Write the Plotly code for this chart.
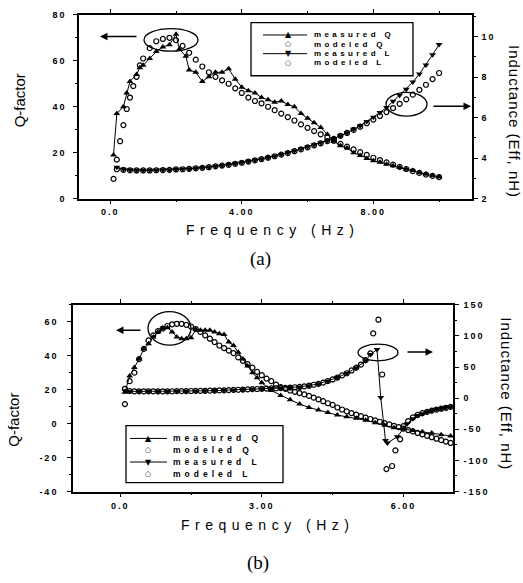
import plotly.graph_objects as go

W, H = 523, 583

# ---------------- data: chart (a) ----------------
a_freq_meas_q = [0.1, 0.2, 0.4, 0.5, 0.6, 0.8, 0.9, 1.0, 1.2, 1.4, 1.6, 1.8, 2.0, 2.1, 2.3, 2.4, 2.6, 2.8,
                 3.0, 3.2, 3.4, 3.6, 3.8, 4.0, 4.2, 4.4, 4.6, 4.8, 5.0, 5.2, 5.4, 5.6, 5.8, 6.0, 6.2, 6.4,
                 6.6, 6.8, 7.0, 7.2, 7.4, 7.6, 7.8, 8.0, 8.2, 8.4, 8.6, 8.8, 9.0, 9.2, 9.4, 9.6, 9.8, 10.0]
a_meas_q = [19, 37, 40, 46, 51, 54, 57, 58, 61, 64, 66, 67, 71.5, 65, 62, 56, 55, 51,
            53, 55, 55, 56.5, 52, 48.5, 47, 46, 44, 43, 42, 42.5, 41, 40, 37, 35, 33, 31,
            28, 25, 23, 22, 20, 18.8, 17.5, 16.5, 15.8, 15, 14.3, 13.5, 12.8, 12.2, 11.3, 10.6, 10, 9.4]

a_freq_mod_q = [0.1, 0.2, 0.3, 0.4, 0.5, 0.6, 0.7, 0.8, 0.9, 1.0, 1.2, 1.4, 1.6, 1.8, 2.0, 2.2, 2.4, 2.6,
                2.8, 3.0, 3.2, 3.4, 3.6, 3.8, 4.0, 4.2, 4.4, 4.6, 4.8, 5.0, 5.2, 5.4, 5.6, 5.8, 6.0, 6.2,
                6.4, 6.6, 6.8, 7.0, 7.2, 7.4, 7.6, 7.8, 8.0, 8.2, 8.4, 8.6, 8.8, 9.0, 9.2, 9.4, 9.6, 9.8, 10.0]
a_mod_q = [8.6, 17, 25, 32, 39, 44, 49, 53, 58, 61, 65.5, 68.5, 69.5, 70, 69, 66.5, 63.5, 60.5,
           57.5, 55, 53, 51.5, 50, 48, 46, 44, 42.5, 41.5, 40, 38.5, 37, 35.5, 34, 32.3, 30.8, 29.4,
           28, 26.6, 25.2, 23.8, 22.6, 21.4, 20.2, 19, 17.8, 16.8, 15.8, 14.8, 13.8, 12.9, 12, 11.2, 10.5, 9.9, 9.4]

a_freq_l = [0.2, 0.4, 0.6, 0.8, 1.0, 1.2, 1.4, 1.6, 1.8, 2.0, 2.2, 2.4, 2.6, 2.8, 3.0, 3.2, 3.4, 3.6,
            3.8, 4.0, 4.2, 4.4, 4.6, 4.8, 5.0, 5.2, 5.4, 5.6, 5.8, 6.0, 6.2, 6.4, 6.6, 6.8, 7.0, 7.2,
            7.4, 7.6, 7.8, 8.0, 8.2, 8.4, 8.6, 8.8, 9.0, 9.2, 9.4, 9.6, 9.8, 10.0]
a_meas_l = [3.55, 3.45, 3.42, 3.4, 3.4, 3.4, 3.41, 3.42, 3.43, 3.45, 3.46, 3.48, 3.5, 3.53, 3.56, 3.6,
            3.64, 3.68, 3.73, 3.78, 3.84, 3.9, 3.96, 4.03, 4.1, 4.18, 4.27, 4.36, 4.46, 4.56, 4.66, 4.76,
            4.86, 4.97, 5.1, 5.25, 5.42, 5.6, 5.8, 6.02, 6.25, 6.5, 6.8, 7.1, 7.4, 7.75, 8.15, 8.6, 9.1, 9.6]
a_mod_l = [3.45, 3.42, 3.4, 3.39, 3.39, 3.39, 3.4, 3.41, 3.42, 3.44, 3.45, 3.47, 3.49, 3.52, 3.55, 3.59,
           3.63, 3.67, 3.72, 3.77, 3.83, 3.89, 3.95, 4.02, 4.09, 4.17, 4.25, 4.34, 4.43, 4.53, 4.63, 4.73,
           4.84, 4.95, 5.1, 5.24, 5.39, 5.55, 5.72, 5.9, 6.08, 6.27, 6.47, 6.68, 6.9, 7.13, 7.37, 7.62, 7.9, 8.2]

# ---------------- data: chart (b) ----------------
b_freq_meas_q = [0.1, 0.2, 0.3, 0.4, 0.5, 0.6, 0.7, 0.8, 0.9, 1.0, 1.1, 1.2, 1.3, 1.4, 1.5, 1.6, 1.7, 1.8,
                 1.9, 2.0, 2.1, 2.2, 2.3, 2.4, 2.5, 2.6, 2.7, 2.8, 2.9, 3.0, 3.2, 3.4, 3.6, 3.8, 4.0, 4.2,
                 4.4, 4.6, 4.8, 5.0, 5.2, 5.4, 5.6, 5.8, 6.0, 6.2, 6.4, 6.6, 6.8, 7.0]
b_meas_q = [18.5, 28, 33, 38, 44, 47, 51, 54, 56, 56.5, 54, 51, 50, 50, 50.5, 55.5, 55, 55,
            55, 54, 53, 52.5, 48, 46, 42, 38, 34, 30, 27, 24, 19.5, 16.5, 14, 11.5, 9.5, 8,
            6.5, 5, 4, 3.2, 2, 0.5, -1, -2.5, -3.2, -4, -4.8, -5.6, -6.5, -7.3]

b_freq_mod_q = [0.1, 0.2, 0.3, 0.4, 0.5, 0.6, 0.7, 0.8, 0.9, 1.0, 1.1, 1.2, 1.3, 1.4, 1.5, 1.6, 1.7, 1.8,
                1.9, 2.0, 2.1, 2.2, 2.3, 2.4, 2.5, 2.6, 2.7, 2.8, 2.9, 3.0, 3.1, 3.2, 3.3, 3.4, 3.5, 3.6,
                3.7, 3.8, 3.9, 4.0, 4.1, 4.2, 4.3, 4.4, 4.5, 4.6, 4.7, 4.8, 4.9, 5.0, 5.1, 5.2, 5.3, 5.4,
                5.5, 5.6, 5.7, 5.8, 5.9, 6.0, 6.1, 6.2, 6.3, 6.4, 6.5, 6.6, 6.7, 6.8, 6.9, 7.0]
b_mod_q = [11.5, 25, 30, 38, 44, 49, 52, 54.5, 56, 57.5, 58.5, 58.8, 58.8, 58.2, 57.2, 55.7, 54, 52,
           50, 48, 46, 44.5, 43, 41.5, 39, 37, 35, 33, 30.5, 28.5, 26.5, 25, 23, 21.5, 20.5, 19.5,
           18.7, 18, 17.2, 16.3, 15.3, 14.3, 13.2, 12, 11, 9.5, 8.3, 7.2, 6.2, 5.3, 4.4, 3.5, 2.7, 1.9,
           1.1, 0.3, -0.5, -1.3, -2.1, -2.9, -3.8, -4.6, -5.5, -6.3, -7.2, -8.0, -8.9, -9.7, -10.6, -11.4]

b_freq_meas_l = [0.1, 0.2, 0.4, 0.6, 0.8, 1.0, 1.2, 1.4, 1.6, 1.8, 2.0, 2.2, 2.4, 2.6, 2.8, 3.0, 3.2, 3.4,
                 3.6, 3.8, 4.0, 4.2, 4.4, 4.6, 4.8, 5.0, 5.2, 5.3, 5.44, 5.52, 5.62, 5.66, 5.87, 6.08,
                 6.2, 6.3, 6.4, 6.5, 6.6, 6.7, 6.8, 6.9, 7.0]
b_meas_l = [12, 11, 10.8, 10.8, 10.8, 10.8, 11, 11.2, 11.5, 11.8, 12.2, 12.6, 13.2, 13.8, 14.4, 15, 15.6, 16.2,
            17, 18, 20, 23, 27.5, 33, 40, 49, 60, 70, 78, 1, -68, -72, -62, -41,
            -33, -28, -25, -22, -20, -18, -16.5, -15, -14]

b_freq_mod_l = [0.1, 0.2, 0.3, 0.4, 0.5, 0.6, 0.7, 0.8, 0.9, 1.0, 1.1, 1.2, 1.3, 1.4, 1.5, 1.6, 1.7, 1.8,
                1.9, 2.0, 2.1, 2.2, 2.3, 2.4, 2.5, 2.6, 2.7, 2.8, 2.9, 3.0, 3.1, 3.2, 3.3, 3.4, 3.5, 3.6,
                3.7, 3.8, 3.9, 4.0, 4.1, 4.2, 4.3, 4.4, 4.5, 4.6, 4.7, 4.8, 4.9, 5.0, 5.1, 5.2, 5.3,
                5.36, 5.47, 5.55, 5.64, 5.76, 5.83, 5.93,
                6.0, 6.1, 6.2, 6.3, 6.4, 6.5, 6.6, 6.7, 6.8, 6.9, 7.0]
b_mod_l = [15, 11.5, 11, 11, 11, 11, 11, 11, 11, 11, 11.1, 11.2, 11.3, 11.4, 11.5, 11.6, 11.7, 11.8,
           12, 12.2, 12.4, 12.6, 12.9, 13.2, 13.5, 13.8, 14.1, 14.4, 14.7, 15, 15.3, 15.6, 15.9, 16.2, 16.5, 17,
           17.5, 18, 19, 20, 21.5, 23, 25, 27.5, 30, 33, 36.5, 40, 44.5, 49, 54, 61, 72,
           104, 126, 38, -114, -109, -84, -66,
           -45, -37, -31, -27, -24, -22, -20, -18.5, -17, -15.5, -14]

# tick labels
a_x_ticks = [0, 4, 8]
a_x_labels = ["0.0", "4.00", "8.00"]
a_q_ticks = [0, 20, 40, 60, 80]
a_l_ticks = [2, 4, 6, 8, 10]
b_x_ticks = [0, 3, 6]
b_x_labels = ["0.0", "3.00", "6.00"]
b_q_ticks = [-40, -20, 0, 20, 40, 60]
b_l_ticks = [-150, -100, -50, 0, 50, 100, 150]

legend_names = ["measured Q", "modeled Q", "measured L", "modeled L"]

# ---------------- helpers ----------------
def px(x):
    return x / W

def py(y):
    return 1 - y / H

def spaced(t, s):
    return '<span style="letter-spacing:%spx">%s</span>' % (s, t)

SANS = "Liberation Sans"
BLACK = "black"
tickfont = dict(family=SANS, size=9, color=BLACK, weight="bold")

fig = go.Figure()

def add_series(xa, ya, x, y, kind, name):
    if kind == "mq":
        fig.add_trace(go.Scatter(x=x, y=y, xaxis=xa, yaxis=ya, name=name, mode="lines+markers",
                                 line=dict(color=BLACK, width=1),
                                 marker=dict(symbol="triangle-up", size=6, color=BLACK)))
    elif kind == "ml":
        fig.add_trace(go.Scatter(x=x, y=y, xaxis=xa, yaxis=ya, name=name, mode="lines+markers",
                                 line=dict(color=BLACK, width=1),
                                 marker=dict(symbol="triangle-down", size=6, color=BLACK)))
    else:
        fig.add_trace(go.Scatter(x=x, y=y, xaxis=xa, yaxis=ya, name=name, mode="markers",
                                 marker=dict(symbol="circle-open", size=5, color=BLACK,
                                             line=dict(width=1.2, color=BLACK))))

add_series("x", "y", a_freq_mod_q, a_mod_q, "o", "modeled Q")
add_series("x", "y", a_freq_meas_q, a_meas_q, "mq", "measured Q")
add_series("x", "y2", a_freq_l, a_mod_l, "o", "modeled L")
add_series("x", "y2", a_freq_l, a_meas_l, "ml", "measured L")

add_series("x2", "y3", b_freq_mod_q, b_mod_q, "o", "modeled Q")
add_series("x2", "y3", b_freq_meas_q, b_meas_q, "mq", "measured Q")
add_series("x2", "y4", b_freq_mod_l, b_mod_l, "o", "modeled L")
add_series("x2", "y4", b_freq_meas_l, b_meas_l, "ml", "measured L")

def axis(domain, rng, tv, tt, anchor, minor_dtick, standoff, **kw):
    d = dict(domain=domain, range=rng, tickmode="array", tickvals=tv,
             ticktext=[spaced(t, 2) for t in tt], anchor=anchor,
             ticks="outside", ticklen=4, tickwidth=1.2, tickcolor=BLACK,
             minor=dict(ticks="outside", ticklen=2, tickwidth=1, tickcolor=BLACK,
                        tickmode="linear", tick0=tv[0], dtick=minor_dtick),
             showline=True, linewidth=1.6, linecolor=BLACK, showgrid=False, zeroline=False,
             tickfont=tickfont, ticklabelstandoff=standoff)
    d.update(kw)
    return d

fig.update_layout(
    width=W, height=H, autosize=False,
    margin=dict(l=0, r=0, t=0, b=0),
    paper_bgcolor="white", plot_bgcolor="white",
    showlegend=False,
    xaxis=axis([px(79), px(472)], [-0.95, 11.0], a_x_ticks, a_x_labels, "y", 2, 0, mirror="ticks"),
    yaxis=axis([py(197), py(10)], [0, 80], a_q_ticks, [str(v) for v in a_q_ticks], "x", 10, 5),
    yaxis2=axis([py(197), py(10)], [2, 11.07], a_l_ticks, [str(v) for v in a_l_ticks], "x", 1, 2,
                overlaying="y", side="right"),
    xaxis2=axis([px(73), px(453)], [-1.0, 7.05], b_x_ticks, b_x_labels, "y3", 1.5, 1, mirror="ticks"),
    yaxis3=axis([py(495), py(305)], [-40, 70], b_q_ticks, [str(v) for v in b_q_ticks], "x2", 10, 7),
    yaxis4=axis([py(495), py(305)], [-150, 150], b_l_ticks, [str(v) for v in b_l_ticks], "x2", 25, 3,
                overlaying="y3", side="right"),
)

ann = []
shapes = []

def text(x, y, t, size, family=SANS, angle=0, xanchor="center", weight="normal"):
    ann.append(dict(x=px(x), y=py(y), xref="paper", yref="paper", text=t, showarrow=False,
                    textangle=angle, xanchor=xanchor, yanchor="middle",
                    font=dict(family=family, size=size, color=BLACK, weight=weight)))

# axis titles
text(19, 97, "Q-factor", 15, angle=-90)
text(514, 118, spaced("Inductance (Eff, nH)", 1), 15, angle=90)
text(272, 229, spaced("Frequency (Hz)", 5.5), 14)
text(260, 258, "(a)", 19, family="Liberation Serif")

text(14, 422, "Q-factor", 15, angle=-90)
text(507, 395, spaced("Inductance (Eff, nH)", 1), 15, angle=90)
text(267, 529, spaced("Frequency (Hz)", 5.5), 14)
text(258, 568, "(b)", 19, family="Liberation Serif")

# arrows
def arrow(hx, hy, dx):
    ann.append(dict(x=px(hx), y=py(hy), xref="paper", yref="paper", text="", showarrow=True,
                    ax=dx, ay=0, arrowhead=2, arrowsize=1, arrowwidth=1.5, arrowcolor=BLACK, standoff=0))

arrow(100, 32, 38)
arrow(471, 103, -39)
arrow(116, 331, 26)
arrow(433, 353, -27)

def ellipse(x0, y0, x1, y1):
    shapes.append(dict(type="circle", xref="paper", yref="paper", x0=px(x0), x1=px(x1),
                       y0=py(y1), y1=py(y0), line=dict(color=BLACK, width=1.3)))

ellipse(144, 24, 198, 47)
ellipse(386, 89, 427, 113)
ellipse(148, 312, 191, 346)
ellipse(358, 345, 398, 362)

# manual legends
def legend(box, rows, lx0, lx1, mx, tx, size, sp):
    x0, y0, x1, y1 = box
    shapes.append(dict(type="rect", xref="paper", yref="paper", x0=px(x0), x1=px(x1),
                       y0=py(y1), y1=py(y0), line=dict(color=BLACK, width=1.3),
                       fillcolor="white", layer="above"))
    glyphs = ["▲", "○", "▼", "○"]
    for i, (name, ry) in enumerate(zip(legend_names, rows)):
        if i in (0, 2):
            shapes.append(dict(type="line", xref="paper", yref="paper", x0=px(lx0), x1=px(lx1),
                               y0=py(ry), y1=py(ry), line=dict(color=BLACK, width=1)))
        ann.append(dict(x=px(mx), y=py(ry), xref="paper", yref="paper", text=glyphs[i],
                        showarrow=False, xanchor="center", yanchor="middle",
                        font=dict(family="DejaVu Sans", size=8 if i in (0, 2) else 7, color=BLACK)))
        text(tx, ry, spaced(name, sp), size, xanchor="left", weight="bold")

legend((251, 18, 413, 72), [30.5, 40, 49.5, 59], 263, 307, 288, 312, 8, 3.4)
legend((126, 428, 283, 486), [441, 453, 465, 477], 130, 167, 148, 171, 8.5, 4)

fig.update_layout(annotations=ann, shapes=shapes)

fig.write_html("out.html", config={"displayModeBar": False},
               post_script="document.body.style.margin='0';")
